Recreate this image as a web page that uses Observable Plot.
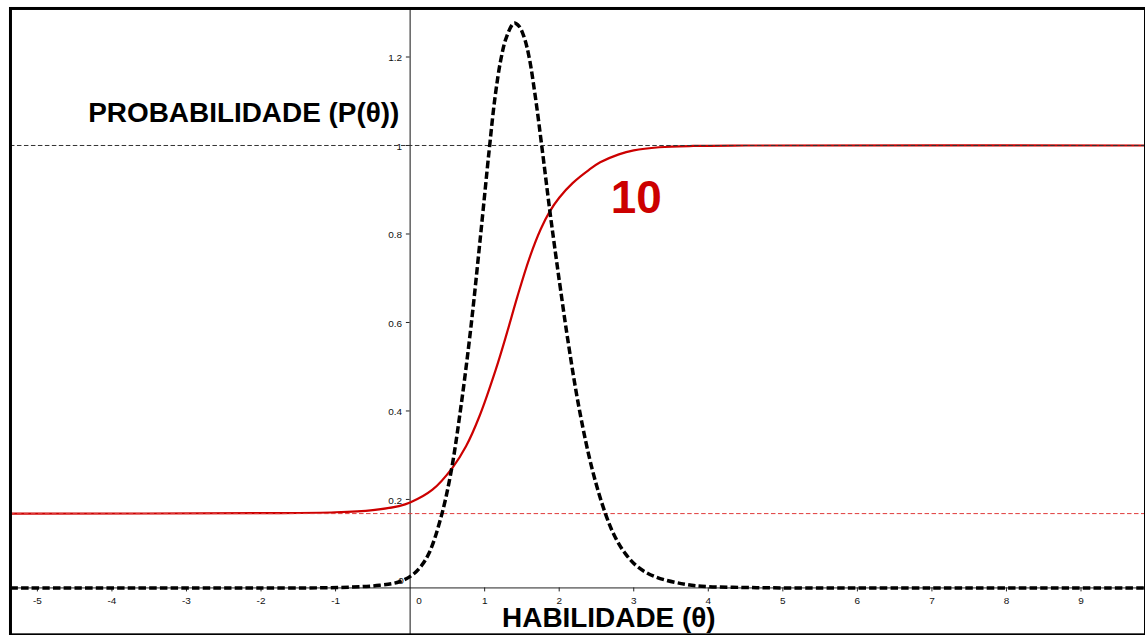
<!DOCTYPE html>
<html><head><meta charset="utf-8">
<script src="https://cdn.jsdelivr.net/npm/d3@7"></script>
<script src="https://cdn.jsdelivr.net/npm/@observablehq/plot@0.6"></script>
<style>html,body{margin:0;padding:0;background:#fff;overflow:hidden;}</style>
</head><body><div id="chart"></div>
<script>
// Item characteristic curve (item 10)
const thetaP = [-5.361, -2, -1, -0.5, -0.15, 0, 0.3, 0.57, 0.75, 0.93, 1.15, 1.3, 1.44, 1.6, 1.75, 1.87, 2.0, 2.18, 2.4, 2.55, 2.8, 3.0, 3.34, 3.8, 4.5, 9.865];
const probP  = [0.168, 0.169, 0.171, 0.176, 0.185, 0.193, 0.222, 0.272, 0.320, 0.388, 0.494, 0.577, 0.659, 0.745, 0.810, 0.850, 0.882, 0.915, 0.945, 0.962, 0.980, 0.989, 0.996, 0.999, 1.0, 1.0];
// Item information curve (dashed black)
const thetaInfo = [-5.361, -2, -0.95, -0.41, -0.143, 0.035, 0.15, 0.258, 0.415, 0.549, 0.682, 0.816, 0.941, 1.061, 1.14, 1.218, 1.293, 1.395, 1.46, 1.529, 1.596, 1.68, 1.766, 1.873, 1.95, 2.02, 2.109, 2.265, 2.443, 2.622, 2.75, 2.89, 3.05, 3.291, 3.7, 4.0, 4.5, 5.0, 9.865];
const info      = [0, 0, 0.001, 0.006, 0.014, 0.030, 0.050, 0.080, 0.160, 0.262, 0.410, 0.590, 0.790, 0.990, 1.110, 1.195, 1.245, 1.277, 1.270, 1.245, 1.200, 1.110, 0.999, 0.854, 0.757, 0.672, 0.568, 0.408, 0.268, 0.167, 0.115, 0.077, 0.048, 0.025, 0.008, 0.003, 0.001, 0, 0];
const guessC = 0.168;
const upperAsym = 1;
const xTicks = [-5, -4, -3, -2, -1, 1, 2, 3, 4, 5, 6, 7, 8, 9];
const xTickLabels = ["-5", "-4", "-3", "-2", "-1", "1", "2", "3", "4", "5", "6", "7", "8", "9"];
const yTicks = [0.2, 0.4, 0.6, 0.8, 1, 1.2];
const yTickLabels = ["0.2", "0.4", "0.6", "0.8", "1", "1.2"];
const yTitle = "PROBABILIDADE (P(θ))";
const xTitle = "HABILIDADE (θ)";
const itemLabel = "10";

const pRows = thetaP.map((t, i) => ({theta: t, p: probP[i]}));
const infoRows = thetaInfo.map((t, i) => ({theta: t, info: info[i]}));
const font = "'Liberation Sans', Arial, Helvetica, sans-serif";

const chart = Plot.plot({
  width: 1148, height: 637,
  marginLeft: 10, marginRight: 0, marginTop: 8, marginBottom: 1,
  x: {domain: [-5.361, 9.865], axis: null},
  y: {domain: [-0.106, 1.3097], axis: null},
  style: {fontFamily: font, background: "#fff", overflow: "hidden"},
  marks: [
    Plot.ruleY([0], {stroke: "#222", strokeWidth: 1}),
    Plot.ruleX([0], {stroke: "#111", strokeWidth: 1}),
    Plot.ruleX(xTicks, {x: d => d, y1: 0, y2: -0.009, stroke: "#222"}),
    Plot.ruleY(yTicks, {y: d => d, x1: -0.05, x2: 0, stroke: "#222"}),
    Plot.text(xTicks, {x: d => d, y: 0, text: (d, i) => xTickLabels[i], dy: 16, lineAnchor: "bottom", fontSize: 10, fill: "#111"}),
    Plot.text(["0"], {x: 0, y: 0, text: d => d, dx: 9, dy: 16, lineAnchor: "bottom", fontSize: 10, fill: "#111"}),
    Plot.text(["0"], {x: 0, y: 0, text: d => d, dx: -9, dy: -7, lineAnchor: "middle", fontSize: 10, fill: "#111"}),
    Plot.text(yTicks, {x: 0, y: d => d, text: (d, i) => yTickLabels[i], textAnchor: "end", dx: -8, dy: 1, lineAnchor: "middle", fontSize: 10, fill: "#111"}),
    Plot.line(pRows, {x: "theta", y: "p", stroke: "#cc0000", strokeWidth: 2.2, curve: "catmull-rom", clip: true}),
    Plot.ruleY([upperAsym], {stroke: "#333", strokeDasharray: "4.5,2.5", strokeWidth: 1}),
    Plot.ruleY([guessC], {stroke: "#e03a3a", strokeDasharray: "4.5,2.5", strokeWidth: 1}),
    Plot.line(infoRows, {x: "theta", y: "info", stroke: "#000", strokeWidth: 3.5, strokeDasharray: "7.5,3.2", strokeLinecap: "butt", strokeLinejoin: "miter", curve: "catmull-rom", clip: true}),
    Plot.text([yTitle], {x: -4.318, y: 1.053, text: d => d, textAnchor: "start", lineAnchor: "bottom", fontSize: 28, fontWeight: "bold", fill: "#000"}),
    Plot.text([xTitle], {x: 1.234, y: -0.088, text: d => d, textAnchor: "start", lineAnchor: "bottom", fontSize: 28, fontWeight: "bold", fill: "#000"}),
    Plot.text([itemLabel], {x: 3.034, y: 0.848, text: d => d, textAnchor: "middle", lineAnchor: "bottom", fontSize: 46, fontWeight: "bold", fill: "#cc0000"}),
    Plot.frame({stroke: "#000", strokeWidth: 3})
  ]
});
document.getElementById("chart").appendChild(chart);
</script>
</body></html>
